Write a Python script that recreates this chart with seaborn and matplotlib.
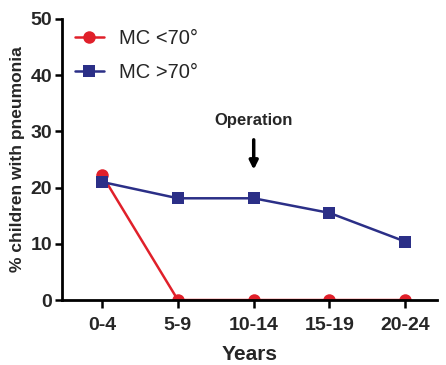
import matplotlib
matplotlib.use("Agg")
import matplotlib.pyplot as plt
import seaborn as sns
import pandas as pd

years = ["0-4", "5-9", "10-14", "15-19", "20-24"]
mc_below_70 = [22.2, 0, 0, 0, 0]
mc_above_70 = [21.0, 18.1, 18.1, 15.5, 10.4]
series_names = ["MC <70°", "MC >70°"]

sns.set_style("ticks")
plt.rcParams['font.family'] = ['Liberation Sans', 'DejaVu Sans']

df = pd.DataFrame({
    "x": list(range(len(years))) * 2,
    "val": mc_below_70 + mc_above_70,
    "series": [series_names[0]] * len(years) + [series_names[1]] * len(years),
})

fig = plt.figure(figsize=(4.46, 3.65), dpi=100)
ax = fig.add_axes([0.139, 0.178, 0.841, 0.77])

palette = {series_names[0]: "#e0202a", series_names[1]: "#2b2f87"}
sns.lineplot(data=df, x="x", y="val", hue="series", style="series",
             markers={series_names[0]: "o", series_names[1]: "s"},
             dashes=False, palette=palette, markersize=9, linewidth=1.8,
             markeredgewidth=0, ax=ax)

ax.set_xlim(-0.53, 4.42)
ax.set_ylim(0, 50)
ax.set_xticks(range(len(years)))
ax.set_xticklabels(years)
ax.set_yticks([0, 10, 20, 30, 40, 50])
for lab in ax.get_xticklabels() + ax.get_yticklabels():
    lab.set_fontweight("bold")
    lab.set_fontsize(14)
ax.tick_params(axis="x", width=1.8, length=6, color="black", pad=6)
ax.tick_params(axis="y", width=1.8, length=5, color="black", pad=2)
for s in ["left", "bottom"]:
    ax.spines[s].set_linewidth(2)
    ax.spines[s].set_color("black")
sns.despine(ax=ax)

ax.set_xlabel("Years", fontsize=15, fontweight="bold", labelpad=8)
ax.set_ylabel("% children with pneumonia", fontsize=12.5, fontweight="bold",
              labelpad=4)

ax.annotate("", xy=(2, 22.7), xytext=(2, 29.0),
            arrowprops=dict(arrowstyle="-|>,head_width=0.25,head_length=0.5",
                            color="black", lw=2.5))
ax.text(2, 30.6, "Operation", ha="center", va="bottom", fontsize=12,
        fontweight="bold")

leg = ax.legend(loc="upper left", bbox_to_anchor=(-0.014, 1.03), frameon=False,
                fontsize=14.5, handlelength=1.45, handletextpad=0.75,
                labelspacing=0.78)

fig.savefig("out.png", dpi=100)
